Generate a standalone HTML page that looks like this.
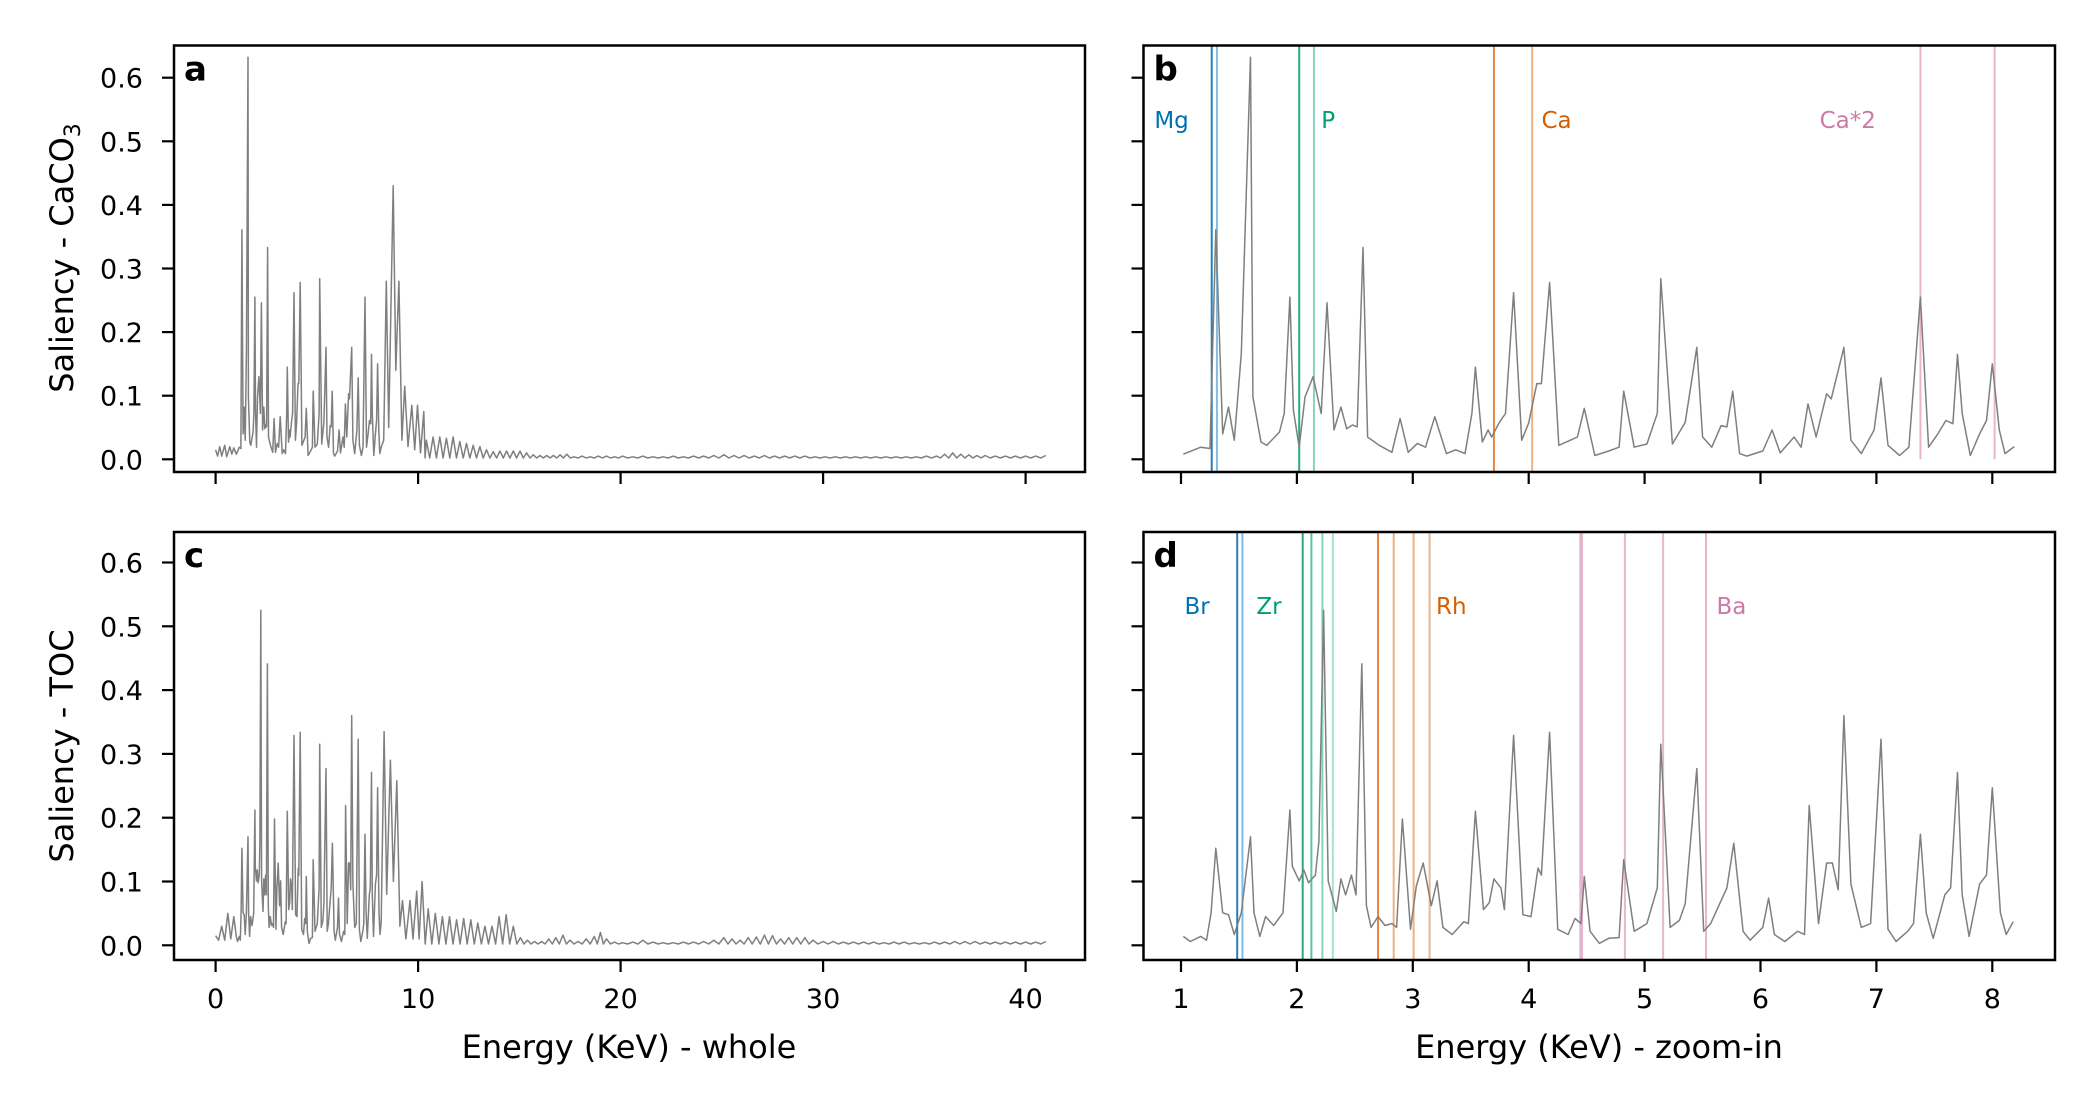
<!DOCTYPE html>
<html><head><meta charset="utf-8"><style>
html,body{margin:0;padding:0;background:#fff}
svg{display:block;font-family:"DejaVu Sans","Liberation Sans",sans-serif}
</style></head><body>
<svg id="fig" width="2100" height="1110" viewBox="0 0 2100 1110" xmlns="http://www.w3.org/2000/svg">
<defs>
<clipPath id="clipA"><rect x="174" y="45.5" width="911" height="426.5"/></clipPath>
<clipPath id="clipB"><rect x="1143.5" y="45.5" width="911.5" height="426.5"/></clipPath>
<clipPath id="clipC"><rect x="174" y="532" width="911" height="428"/></clipPath>
<clipPath id="clipD"><rect x="1143.5" y="532" width="911.5" height="428"/></clipPath>
</defs>
<g id="layer"></g>
</svg>
<script>
// ---- data ----
const yTicks = [0.0, 0.1, 0.2, 0.3, 0.4, 0.5, 0.6];
const yTickLabels = ["0.0","0.1","0.2","0.3","0.4","0.5","0.6"];
const wholeTicks = [0, 10, 20, 30, 40];
const zoomTicks = [1, 2, 3, 4, 5, 6, 7, 8];

// panel b (CaCO3 zoom-in)
const bE = [1.02,1.17,1.25,1.30,1.36,1.41,1.46,1.52,1.60,1.62,1.69,1.74,1.85,1.89,1.94,1.97,2.02,2.07,2.14,2.21,2.26,2.32,2.38,2.43,2.48,2.52,2.57,2.61,2.71,2.82,2.89,2.96,3.04,3.11,3.19,3.29,3.37,3.45,3.51,3.54,3.60,3.65,3.68,3.75,3.80,3.87,3.94,4.00,4.07,4.11,4.18,4.26,4.36,4.42,4.48,4.57,4.69,4.78,4.82,4.91,5.02,5.11,5.14,5.24,5.35,5.45,5.50,5.58,5.66,5.71,5.76,5.82,5.88,6.02,6.10,6.17,6.29,6.35,6.41,6.48,6.57,6.61,6.72,6.78,6.87,6.98,7.04,7.10,7.20,7.28,7.38,7.45,7.53,7.60,7.66,7.70,7.74,7.81,7.89,7.95,8.00,8.06,8.11,8.19];
const bV = [.008,.019,.017,.361,.040,.082,.030,.166,.632,.098,.027,.022,.043,.072,.255,.077,.019,.098,.130,.072,.246,.046,.082,.048,.054,.051,.333,.035,.022,.011,.064,.011,.025,.019,.067,.009,.015,.009,.072,.145,.027,.046,.035,.059,.072,.262,.030,.057,.119,.119,.278,.022,.030,.035,.080,.006,.013,.019,.107,.019,.024,.072,.284,.024,.058,.176,.035,.019,.053,.051,.107,.009,.005,.013,.046,.010,.035,.019,.087,.035,.103,.095,.176,.030,.009,.046,.128,.022,.006,.019,.255,.019,.040,.061,.056,.165,.072,.006,.040,.061,.150,.046,.009,.020];

// panel d (TOC zoom-in)
const dE = [1.02,1.08,1.17,1.22,1.26,1.30,1.36,1.41,1.46,1.52,1.60,1.63,1.68,1.73,1.80,1.88,1.94,1.96,2.02,2.06,2.10,2.16,2.19,2.23,2.27,2.34,2.38,2.42,2.47,2.51,2.56,2.60,2.64,2.70,2.76,2.82,2.86,2.91,2.98,3.03,3.09,3.16,3.21,3.26,3.34,3.44,3.48,3.54,3.61,3.66,3.70,3.76,3.79,3.87,3.95,4.02,4.08,4.11,4.18,4.25,4.34,4.40,4.45,4.48,4.53,4.61,4.69,4.78,4.82,4.91,5.02,5.11,5.14,5.22,5.30,5.35,5.45,5.51,5.57,5.66,5.71,5.77,5.85,5.91,6.02,6.07,6.12,6.21,6.32,6.38,6.42,6.50,6.57,6.62,6.67,6.72,6.78,6.87,6.95,7.04,7.10,7.17,7.27,7.32,7.38,7.43,7.49,7.59,7.64,7.70,7.74,7.80,7.89,7.95,8.00,8.07,8.12,8.18];
const dV = [.014,.006,.014,.008,.051,.152,.051,.048,.017,.051,.170,.051,.014,.045,.031,.051,.212,.124,.101,.118,.098,.110,.163,.525,.101,.053,.104,.079,.110,.079,.441,.062,.028,.045,.031,.034,.028,.198,.025,.093,.129,.062,.101,.028,.017,.037,.034,.210,.056,.067,.104,.090,.056,.329,.048,.045,.121,.110,.334,.025,.017,.042,.034,.108,.022,.003,.011,.012,.134,.022,.034,.090,.315,.028,.039,.065,.277,.022,.034,.070,.090,.160,.022,.008,.028,.074,.017,.006,.022,.017,.219,.034,.129,.129,.087,.360,.096,.028,.034,.323,.025,.006,.022,.034,.174,.051,.011,.079,.090,.271,.079,.014,.096,.110,.247,.051,.017,.037];

// panel a (CaCO3 whole) extra segments
const aHeadE = [0,0.1,0.2,0.3,0.45,0.55,0.7,0.8,0.9];
const aHeadV = [.015,.005,.02,.005,.022,.004,.02,.008,.018];
const aMidE = [8.3,8.43,8.55,8.77,8.9,9.05,9.2,9.34,9.5,9.69,9.83,9.97,10.12,10.28];
const aMidV = [.03,.28,.05,.43,.14,.28,.03,.115,.02,.085,.015,.085,.01,.075];
const aTailE = [10.41,10.74,11.07,11.40,11.73,12.06,12.39,12.72,13.05,13.38,13.71,14.04,14.37,14.70,15.03,15.36,15.69,16.02,16.35,16.68,17.01,17.34,17.7,18.1,18.5,18.9,19.3,19.7,20.1,20.6,21.1,21.6,22.1,22.6,23.1,23.6,24.1,24.6,25.1,25.6,26.1,26.6,27.1,27.6,28.1,28.6,29.1,29.6,30.1,30.6,31.1,31.6,32.1,32.6,33.1,33.6,34.1,34.6,35.1,35.6,36.0,36.4,36.8,37.2,37.6,38.0,38.5,39.0,39.5,40.0,40.5,41.0];
const aTailV = [.030,.035,.035,.033,.035,.028,.025,.022,.020,.015,.012,.013,.013,.013,.013,.010,.007,.006,.006,.006,.007,.008,.004,.005,.004,.005,.005,.004,.005,.004,.005,.004,.004,.005,.004,.005,.005,.006,.007,.006,.006,.005,.006,.005,.005,.005,.005,.004,.004,.004,.004,.004,.004,.004,.004,.004,.004,.004,.005,.005,.008,.010,.008,.007,.006,.006,.005,.005,.005,.005,.005,.006];
const aTroughV = [0.002];

// panel c (TOC whole) extra segments
const cHeadE = [0,0.15,0.3,0.45,0.6,0.75,0.9];
const cHeadV = [.015,.008,.03,.008,.05,.01,.045];
const cMidE = [8.32,8.45,8.63,8.78,8.95,9.1,9.23,9.4,9.6,9.75,9.93,10.05,10.2];
const cMidV = [.335,.08,.29,.10,.258,.03,.07,.01,.07,.01,.085,.01,.10];
const cTailE = [10.5,10.85,11.2,11.55,11.9,12.25,12.6,12.95,13.3,13.65,14.0,14.35,14.7,15.05,15.4,15.75,16.1,16.45,16.8,17.15,17.5,17.9,18.3,18.7,19.0,19.3,19.7,20.1,20.6,21.1,21.6,22.1,22.6,23.1,23.6,24.1,24.6,25.1,25.5,25.9,26.3,26.7,27.1,27.5,27.9,28.3,28.7,29.1,29.5,30.0,30.5,31.0,31.5,32.0,32.5,33.0,33.5,34.0,34.5,35.0,35.5,36.0,36.5,37.0,37.5,38.0,38.5,39.0,39.5,40.0,40.5,41.0];
const cTailV = [.057,.05,.045,.045,.04,.042,.04,.035,.03,.03,.045,.048,.03,.012,.008,.006,.006,.010,.012,.016,.008,.006,.010,.014,.020,.010,.005,.004,.005,.008,.005,.004,.004,.005,.005,.006,.008,.012,.010,.008,.012,.013,.016,.015,.010,.012,.012,.012,.008,.006,.006,.005,.005,.005,.005,.004,.005,.005,.004,.004,.005,.005,.006,.006,.006,.005,.005,.005,.005,.005,.005,.006];
const cTroughV = [0.002];

// element lines
const bLineE = [1.265,1.31,2.02,2.147,3.70,4.03,7.38,8.02];
const bLineColor = ["#2a7db8","#7dbde6","#2aa883","#82d6bb","#e8843f","#f2b07f","#e6b6cf","#e6b6cf"];
const bLabels = ["Mg","P","Ca","Ca*2"];
const bLabelE = [0.77,2.21,4.11,6.51];
const bLabelColor = ["#0072B2","#009E73","#D55E00","#CC79A7"];
const dLineE = [1.485,1.53,2.05,2.125,2.22,2.31,2.70,2.835,3.007,3.145,4.445,4.46,4.83,5.16,5.53];
const dLineColor = ["#2a7db8","#7dbde6","#2aa883","#5cc4a2","#82d6bb","#a6e2cf","#e8843f","#f2b07f","#f2b07f","#eab690","#e6b6cf","#e6b6cf","#e6b6cf","#e6b6cf","#e6b6cf"];
const dLabels = ["Br","Zr","Rh","Ba"];
const dLabelE = [1.03,1.65,3.2,5.62];
const dLabelColor = ["#0072B2","#009E73","#D55E00","#CC79A7"];

// ---- scales ----
const xWhole = e => 215.6 + e * 20.25;
const xZoom = e => 1181 + (e - 1) * 115.9;
const yTop = v => 459.3 - 636 * v;
const yBot = v => 945.3 - 638 * v;

const NS = "http://www.w3.org/2000/svg";
const layer = document.getElementById("layer");
function mk(tag, attrs, parent) {
  const el = document.createElementNS(NS, tag);
  for (const k in attrs) el.setAttribute(k, attrs[k]);
  (parent || layer).appendChild(el);
  return el;
}
function withTail(E, V, tE, tV, trough) {
  const oe = E.slice(), ov = V.slice();
  for (let i = 0; i < tE.length; i++) {
    const prev = i === 0 ? oe[oe.length - 1] : tE[i - 1];
    oe.push((prev + tE[i]) / 2); ov.push(trough[0]);
    oe.push(tE[i]); ov.push(tV[i]);
  }
  return [oe, ov];
}
const aSer = withTail(aHeadE.concat(bE, aMidE), aHeadV.concat(bV, aMidV), aTailE, aTailV, aTroughV);
const cSer = withTail(cHeadE.concat(dE, cMidE), cHeadV.concat(dV, cMidV), cTailE, cTailV, cTroughV);

function panel(name) {
  const g = mk("g", {});
  
  
  return g;
}
function drawLine(g, E, V, xs, ys, clip, name) {
  let d = "";
  for (let i = 0; i < E.length; i++) d += (i ? "L" : "M") + xs(E[i]).toFixed(1) + "," + ys(V[i]).toFixed(1);
  const p = mk("path", {d: d, fill: "none", stroke: "#7f7f7f", "stroke-width": 1.5, "stroke-linejoin": "round", "clip-path": "url(#" + clip + ")"}, g);
  
  
}
function drawAxes(g, x0, x1, y0, y1, xs, ys, xt, showXL, showYL, letter) {
  for (let i = 0; i < yTicks.length; i++) {
    const y = ys(yTicks[i]);
    const t = mk("line", {x1: x0 - 12, x2: x0, y1: y, y2: y, stroke: "#000", "stroke-width": 2.2}, g);
    
    
    if (showYL) {
      const tl = mk("text", {x: x0 - 31, y: y + 10, "text-anchor": "end", "font-size": 27, fill: "#000"}, g);
      tl.textContent = yTickLabels[i];
      
      
    }
  }
  for (let i = 0; i < xt.length; i++) {
    const x = xs(xt[i]);
    const t = mk("line", {x1: x, x2: x, y1: y1, y2: y1 + 12, stroke: "#000", "stroke-width": 2.2}, g);
    
    
    if (showXL) {
      const tl = mk("text", {x: x, y: y1 + 48, "text-anchor": "middle", "font-size": 27, fill: "#000"}, g);
      tl.textContent = String(xt[i]);
      
      
    }
  }
  const r = mk("rect", {x: x0, y: y0, width: x1 - x0, height: y1 - y0, fill: "none", stroke: "#000", "stroke-width": 2.5}, g);
  
  
  const lt = mk("text", {x: x0 + 10, y: y0 + 35, "font-size": 34, "font-weight": "bold", fill: "#000"}, g);
  lt.textContent = letter;
  
  
}
function drawVLines(g, E, C, xs, yA, yB, clip) {
  for (let i = 0; i < E.length; i++) {
    const x = xs(E[i]);
    const l = mk("line", {x1: x, x2: x, y1: yA, y2: yB, stroke: C[i], "stroke-width": 2, "clip-path": "url(#" + clip + ")"}, g);
    
    
  }
}
function drawLabels(g, L, E, C, xs, y) {
  for (let i = 0; i < L.length; i++) {
    const t = mk("text", {x: xs(E[i]), y: y, "font-size": 23, fill: C[i]}, g);
    t.textContent = L[i];
    
    
  }
}

// panel a
const gA = panel("panel-a");
drawLine(gA, aSer[0], aSer[1], xWhole, yTop, "clipA", "saliency-caco3-whole");
drawAxes(gA, 174, 1085, 45.5, 472, xWhole, yTop, wholeTicks, false, true, "a");
// panel b
const gB = panel("panel-b");
drawVLines(gB, bLineE.slice(0, 6), bLineColor.slice(0, 6), xZoom, 45.5, 472, "clipB");
drawVLines(gB, bLineE.slice(6), bLineColor.slice(6), xZoom, 45.5, yTop(0), "clipB");
drawLine(gB, bE, bV, xZoom, yTop, "clipB", "saliency-caco3-zoom");
drawLabels(gB, bLabels, bLabelE, bLabelColor, xZoom, 128);
drawAxes(gB, 1143.5, 2055, 45.5, 472, xZoom, yTop, zoomTicks, false, false, "b");
// panel c
const gC = panel("panel-c");
drawLine(gC, cSer[0], cSer[1], xWhole, yBot, "clipC", "saliency-toc-whole");
drawAxes(gC, 174, 1085, 532, 960, xWhole, yBot, wholeTicks, true, true, "c");
// panel d
const gD = panel("panel-d");
drawVLines(gD, dLineE, dLineColor, xZoom, 532, 960, "clipD");
drawLine(gD, dE, dV, xZoom, yBot, "clipD", "saliency-toc-zoom");
drawLabels(gD, dLabels, dLabelE, dLabelColor, xZoom, 614);
drawAxes(gD, 1143.5, 2055, 532, 960, xZoom, yBot, zoomTicks, true, false, "d");
</script>
<script>
(function(){
  const svg = document.getElementById("fig");
  const NS = "http://www.w3.org/2000/svg";
  function t(txt, attrs, name){
    const e = document.createElementNS(NS, "text");
    for (const k in attrs) e.setAttribute(k, attrs[k]);
    e.textContent = txt;
    
    
    svg.appendChild(e);
    return e;
  }
  const ya = document.createElementNS(NS, "text");
  ya.setAttribute("transform", "translate(73,258) rotate(-90)");
  ya.setAttribute("text-anchor", "middle");
  ya.setAttribute("font-size", 32);
  ya.appendChild(document.createTextNode("Saliency - CaCO"));
  const sub = document.createElementNS(NS, "tspan");
  sub.setAttribute("font-size", 22); sub.setAttribute("dy", 7);
  sub.textContent = "3";
  ya.appendChild(sub);
  
  
  svg.appendChild(ya);
  t("Saliency - TOC", {transform: "translate(73,746) rotate(-90)", "text-anchor": "middle", "font-size": 32}, "y-axis-title-toc");
  t("Energy (KeV) - whole", {x: 629, y: 1058, "text-anchor": "middle", "font-size": 32}, "x-axis-title-whole");
  t("Energy (KeV) - zoom-in", {x: 1599, y: 1058, "text-anchor": "middle", "font-size": 32}, "x-axis-title-zoom");
})();
</script>
</body></html>
